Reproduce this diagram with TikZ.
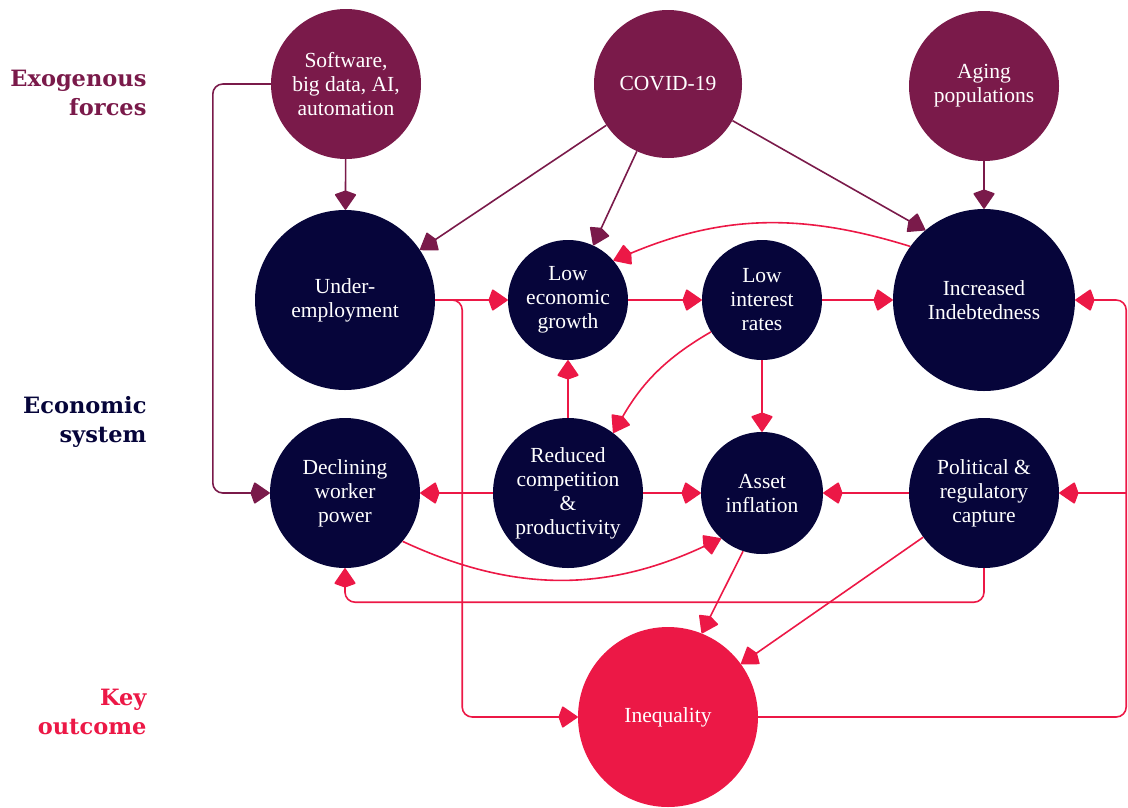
\documentclass[tikz,border=0pt]{standalone}
\usepackage{fontspec}
\setmainfont{Liberation Serif}
\newfontfamily\sidefont{DejaVu Serif}
\usepackage{tikz}
\usetikzlibrary{arrows.meta}
\definecolor{plum}{HTML}{7A1A4A}
\definecolor{ink}{HTML}{06053A}
\definecolor{rose}{HTML}{EC1846}

\begin{document}
\begin{tikzpicture}[x=1pt, y=-1pt, ball/.style={circle, inner sep=0pt, align=center, text=white, font=\fontsize{21.5}{24}\selectfont}, ext/.style={ball, fill=plum}, sys/.style={ball, fill=ink}, res/.style={ball, fill=rose}, side/.style={anchor=east, align=right, font=\sidefont\bfseries\fontsize{22.5}{29}\selectfont}, tip/.style={-{Kite[length=20pt, width=22pt, inset=4pt, round]}}, parr/.style={tip, plum, line width=1.6pt}, rarr/.style={tip, rose, line width=1.6pt}]
\useasboundingbox (0,0) rectangle (1128,807);
\node[side, plum] (lexo) at (150,93) {Exogenous\\forces};
\node[side, ink] (lsys) at (150,422) {Economic\\system};
\node[side, rose] (lkey) at (150,712) {Key\\outcome};
\node[ext, minimum size=150pt] (soft) at (346,84) {Software,\\big data, AI,\\automation};
\node[ext, minimum size=148pt] (covid) at (668,84) {COVID-19};
\node[ext, minimum size=150pt] (aging) at (984,86) {Aging\\populations};
\node[sys, minimum size=180pt] (under) at (345,300) {Under-\\employment};
\node[sys, minimum size=120pt] (growth) at (568,300) {Low\\economic\\growth};
\node[sys, minimum size=120pt] (rates) at (762,300) {Low\\interest\\rates};
\node[sys, minimum size=182pt] (debt) at (984,300) {Increased\\Indebtedness};
\node[sys, minimum size=150pt] (worker) at (345,493) {Declining\\worker\\power};
\node[sys, minimum size=150pt] (comp) at (568,493) {Reduced\\competition\\\&\\productivity};
\node[sys, minimum size=122pt] (asset) at (762,493) {Asset\\inflation};
\node[sys, minimum size=150pt] (capture) at (984,493) {Political \&\\regulatory\\capture};
\node[res, minimum size=180pt] (ineq) at (668,717) {Inequality};
\coordinate (loop) at (1126,493);
\draw[parr] (soft) -- (under); \draw[parr] (covid) -- (under); \draw[parr] (covid) -- (growth); \draw[parr] (covid) -- (debt.130); \draw[parr] (aging) -- (debt);
\draw[parr, rounded corners=10pt] (soft.west) -- ++(-58,0) |- (worker.west);
\draw[rarr] (under.east) -- (growth.west); \draw[rarr] (growth) -- (rates); \draw[rarr] (rates) -- (debt); \draw[rarr] (comp) -- (growth); \draw[rarr] (rates) -- (asset);
\draw[rarr] (comp) -- (worker); \draw[rarr] (comp) -- (asset); \draw[rarr] (capture) -- (asset); \draw[rarr] (loop) -- (capture.east);
\draw[rarr] (debt.144) to[bend right=20] (growth.41);
\draw[rarr] (rates.212) to[out=210, in=60] (comp.53);
\draw[rarr] (worker.-40) to[out=-25, in=205] (asset.228);
\draw[rarr] (asset.252) -- (ineq.68); \draw[rarr] (capture.216) -- (ineq.36);
\draw[rarr, rounded corners=10pt] (capture.south) -- ++(0,34) -| (worker.south);
\draw[rarr, rounded corners=10pt] (under.east) -- ++(27,0) |- (ineq.west);
\draw[rarr, rounded corners=10pt] (ineq.east) -- ++(368,0) |- (debt.east);
\end{tikzpicture}
\end{document}
